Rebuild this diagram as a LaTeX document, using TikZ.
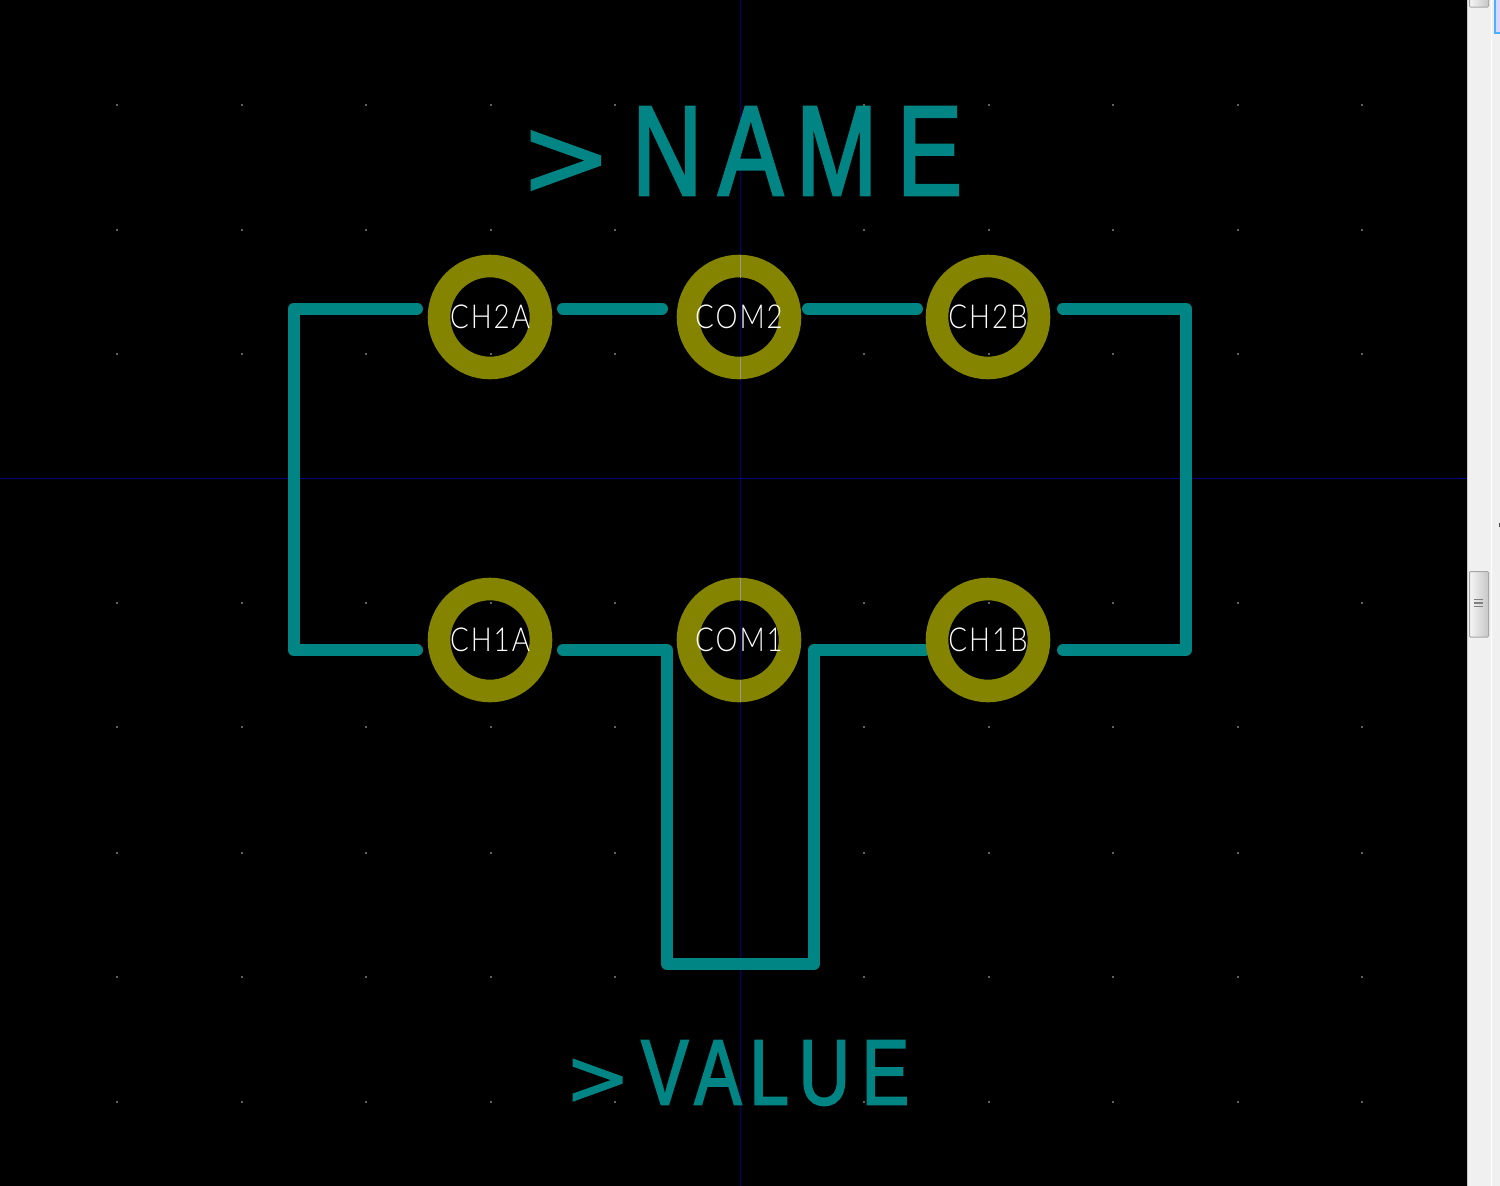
\documentclass[tikz,border=0pt]{standalone}
\usepackage{fontspec}
\newfontfamily\bigf[FakeStretch=0.76,FakeBold=2]{Liberation Sans}
\newfontfamily\gtf[FakeBold=1.5]{DejaVu Sans}
\newfontfamily\thinf[FakeStretch=0.84,LetterSpace=6]{Lato Light}
\definecolor{teal1}{HTML}{008484}
\definecolor{olive1}{HTML}{848400}
\definecolor{gblue}{HTML}{00007F}
\definecolor{barbg}{HTML}{F0F0F0}
\tikzset{
  x=1pt,y=-1pt,
  track/.style={draw=teal1,line width=12pt,line cap=round,line join=round},
  pad/.style={circle,draw=olive1,line width=22.6pt,minimum size=102pt,inner sep=0pt,text=white,
    font=\thinf\fontsize{33pt}{33pt}\selectfont},
  axis/.style={draw=gblue,line width=1pt},
  axisover/.style={draw=black!40,line width=1pt},
  griddot/.style={fill=black!62},
  ftext/.style={inner sep=0pt,text=teal1,anchor=center},
  thumb/.style={left color=white!96!black,right color=black!22,draw=black!35,line width=1pt,rounded corners=1pt}
}
\begin{document}
\begin{tikzpicture}
\useasboundingbox (0,0) rectangle (1500,1186);
\fill[black] (0,0) rectangle (1467,1186);
% grid dots
\foreach \gx in {117,242,366,491,615,864,989,1113,1238,1362}
  \foreach \gy in {105,230,354,603,727,853,977,1102}
    \fill[griddot] (\gx-0.7,\gy-0.7) rectangle (\gx+0.7,\gy+0.7);
% axes
\draw[axis] (740,0) -- (740,1186);
\draw[axis] (0,478) -- (1467,478);
% tracks
\draw[track] (417,308.5) -- (293.7,308.5) -- (293.7,650) -- (417,650);
\draw[track] (563,308.5) -- (662,308.5);
\draw[track] (808,308.5) -- (917,308.5);
\draw[track] (1063,308.5) -- (1186,308.5) -- (1186,650) -- (1063,650);
\draw[track] (563,650) -- (667,650) -- (667,964) -- (814,964) -- (814,650) -- (925,650);
% pads
\node[pad] (ch2a) at (490,317) {CH2A};
\node[pad] (com2) at (739,317) {COM2};
\node[pad] (ch2b) at (988,317) {CH2B};
\node[pad] (ch1a) at (490,640) {CH1A};
\node[pad] (com1) at (739,640) {COM1};
\node[pad] (ch1b) at (988,640) {CH1B};
\foreach \ya/\yb in {255/278,357/379,578/601,680/702}
  \draw[axisover] (740,\ya) -- (740,\yb);
% texts
\node[ftext] (name) at (741,151) {\bigf\fontsize{128pt}{128pt}\selectfont{\gtf\fontsize{110pt}{110pt}\selectfont >}\kern20pt N\kern16pt A\kern13pt M\kern20pt E};
\node[ftext] (value) at (737,1073) {\bigf\fontsize{93pt}{93pt}\selectfont{\gtf\fontsize{78pt}{78pt}\selectfont >}\kern11pt V\kern6pt A\kern8pt L\kern10pt U\kern12pt E};
% scrollbar
\fill[barbg] (1467,0) rectangle (1500,1186);
\draw[black!22,line width=1pt] (1467.5,0) -- (1467.5,1186);
\draw[white,line width=1pt] (1491,0) -- (1491,1186);
\path[thumb] (1469.5,-3) rectangle (1488.5,7);
\path[thumb] (1469.5,571.5) rectangle (1488.5,637);
\foreach \by in {599.5,603,606.5}
  \draw[black!50,line width=1.5pt] (1474,\by) -- (1483,\by);
\fill[blue!15!white,draw=blue!45!cyan!70!white,line width=1.5pt] (1495,-2) rectangle (1501,33);
\fill[black!70] (1498.5,523) rectangle (1500,527);
\end{tikzpicture}
\end{document}
